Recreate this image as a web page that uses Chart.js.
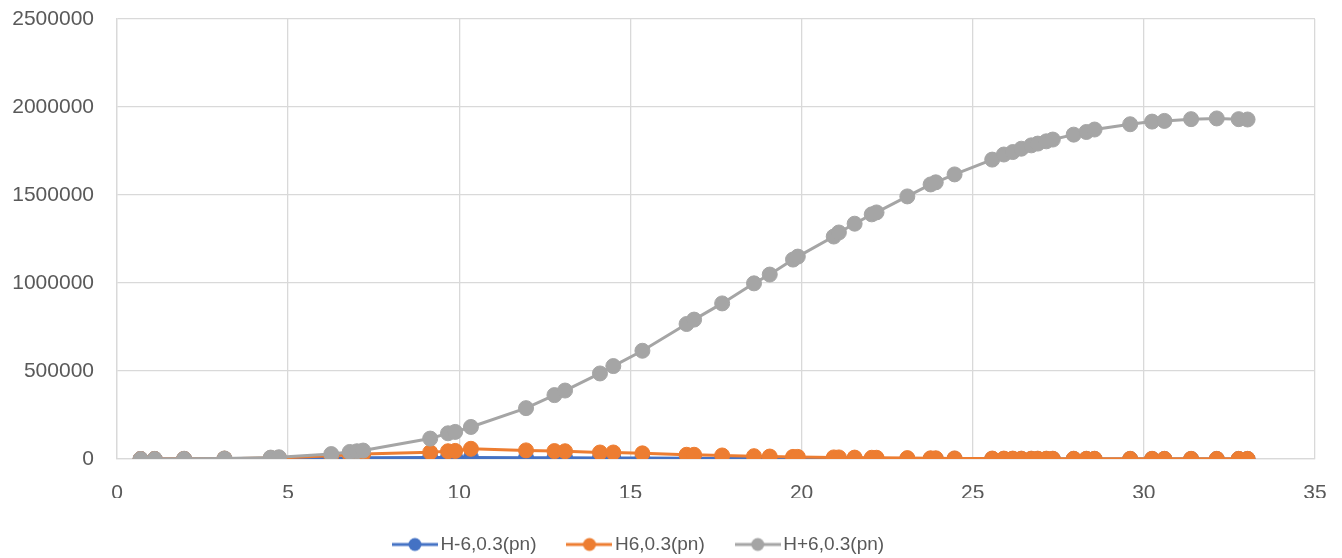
<!DOCTYPE html>
<html>
<head>
<meta charset="utf-8">
<script src="https://cdn.jsdelivr.net/npm/chart.js@4/dist/chart.umd.min.js"></script>
<style>
  html, body { margin: 0; padding: 0; background: #fff; overflow: hidden; }
  #wrap { width: 1342px; height: 558px; position: relative; }
</style>
</head>
<body>
<div id="wrap"><canvas id="c" width="1342" height="558"></canvas></div>
<script>
const xValues = [0.69, 1.10, 1.96, 3.14, 4.49, 4.73, 6.26, 6.80, 7.01, 7.19,
  9.15, 9.67, 9.88, 10.34, 11.95, 12.78, 13.09, 14.11, 14.50, 15.35,
  16.64, 16.86, 17.68, 18.61, 19.07, 19.75, 19.89, 20.94, 21.09, 21.55,
  22.05, 22.19, 23.09, 23.77, 23.92, 24.47, 25.57, 25.91, 26.17, 26.42,
  26.71, 26.90, 27.15, 27.34, 27.95, 28.32, 28.56, 29.60, 30.24, 30.60,
  31.38, 32.13, 32.77, 33.03];

const seriesBlue = [0, 100, 300, 800, 2000, 2500, 5000, 6000, 6500, 7000,
  8000, 8500, 8500, 9000, 7500, 7000, 6800, 6000, 5800, 5000,
  4000, 3900, 3300, 2700, 2400, 2000, 1900, 1500, 1400, 1300,
  1200, 1100, 900, 800, 800, 700, 600, 550, 500, 480,
  460, 440, 420, 400, 380, 360, 350, 320, 300, 290,
  270, 250, 240, 230];

const seriesOrange = [0, 200, 800, 2000, 5000, 6000, 18000, 24000, 26000, 28000,
  38000, 44000, 46000, 58000, 49000, 45000, 44000, 37000, 37000, 32000,
  24000, 24000, 20000, 16000, 14000, 12000, 12000, 9000, 9000, 8000,
  7000, 7000, 5000, 4000, 4000, 3500, 2500, 2300, 2200, 2000,
  1900, 1800, 1700, 1600, 1500, 1400, 1350, 1200, 1100, 1050,
  1000, 950, 900, 880];

const seriesGray = [0, 300, 1200, 3000, 8000, 10000, 28000, 40000, 44000, 48000,
  116000, 146000, 154000, 182000, 289000, 363000, 389000, 486000, 528000, 615000,
  767000, 792000, 884000, 998000, 1048000, 1133000, 1150000, 1264000, 1287000, 1337000,
  1390000, 1401000, 1492000, 1560000, 1572000, 1617000, 1701000, 1730000, 1744000, 1763000,
  1782000, 1792000, 1805000, 1815000, 1843000, 1858000, 1872000, 1902000, 1917000, 1921000,
  1931000, 1935000, 1931000, 1929000];

const seriesNames = ['H-6,0.3(pn)', 'H6,0.3(pn)', 'H+6,0.3(pn)'];
const seriesColors = ['#4472C4', '#ED7D31', '#A5A5A5'];
const xTicks = [0, 5, 10, 15, 20, 25, 30, 35];
const yTicks = [0, 500000, 1000000, 1500000, 2000000, 2500000];

function pts(ys) { return xValues.map((x, i) => ({x: x, y: ys[i]})); }

// legend swatch: line with a round marker
function legendImage(color) {
  const cv = document.createElement('canvas');
  cv.width = 46; cv.height = 16;
  const g = cv.getContext('2d');
  g.strokeStyle = color; g.lineWidth = 3; g.lineCap = 'butt';
  g.beginPath(); g.moveTo(0, 8); g.lineTo(46, 8); g.stroke();
  g.fillStyle = color;
  g.beginPath(); g.arc(23, 8, 6.5, 0, Math.PI * 2); g.fill();
  return cv;
}
const legendImgs = seriesColors.map(legendImage);

const allSeries = [seriesBlue, seriesOrange, seriesGray];
const datasets = allSeries.map((ys, i) => ({
  label: seriesNames[i],
  data: pts(ys),
  borderColor: seriesColors[i],
  backgroundColor: seriesColors[i],
  pointBackgroundColor: seriesColors[i],
  pointBorderColor: seriesColors[i],
  pointBorderWidth: 1,
  pointRadius: 7.5,
  borderWidth: 3,
  tension: 0,
  showLine: true,
  order: 3 - i
}));

const textColor = '#595959';
const gridColor = '#D9D9D9';

const legendShift = {
  id: 'legendShift',
  afterLayout(chart) {
    const lg = chart.legend;
    if (lg) { lg.left -= 16; lg.right -= 16; }
  }
};

new Chart(document.getElementById('c'), {
  type: 'scatter',
  data: { datasets: datasets },
  plugins: [legendShift],
  options: {
    responsive: false,
    animation: false,
    devicePixelRatio: 1,
    layout: { padding: { left: 0, right: 27, top: 19, bottom: -6 } },
    plugins: {
      tooltip: { enabled: false },
      legend: {
        position: 'bottom',
        labels: {
          usePointStyle: true,
          pointStyleWidth: 32,
          padding: 37,
          color: textColor,
          font: { family: 'Liberation Sans', size: 19 },
          generateLabels: function(chart) {
            const items = Chart.defaults.plugins.legend.labels.generateLabels(chart);
            items.sort((a, b) => a.datasetIndex - b.datasetIndex);
            items.forEach(it => { it.pointStyle = legendImgs[it.datasetIndex]; it.lineWidth = 0; });
            return items;
          }
        }
      }
    },
    scales: {
      x: {
        type: 'linear',
        min: 0, max: 35,
        afterBuildTicks: s => { s.ticks = xTicks.map(v => ({value: v})); },
        afterFit: s => { s.height = 39; s.paddingLeft = 0; s.paddingRight = 0; },
        ticks: { color: textColor, font: { family: 'Liberation Sans', size: 21 }, padding: 22, maxRotation: 0 },
        grid: { color: gridColor, lineWidth: 1.3, drawTicks: false },
        border: { color: gridColor, width: 1.3 }
      },
      y: {
        type: 'linear',
        min: 0, max: 2500000,
        afterBuildTicks: s => { s.ticks = yTicks.map(v => ({value: v})); },
        afterFit: s => { s.width = 117; s.paddingTop = 0; s.paddingBottom = 0; },
        ticks: { color: textColor, font: { family: 'Liberation Sans', size: 21 }, padding: 23,
          callback: v => String(v) },
        grid: { color: gridColor, lineWidth: 1.3, drawTicks: false },
        border: { color: gridColor, width: 1.3 }
      }
    }
  }
});
</script>
</body>
</html>
